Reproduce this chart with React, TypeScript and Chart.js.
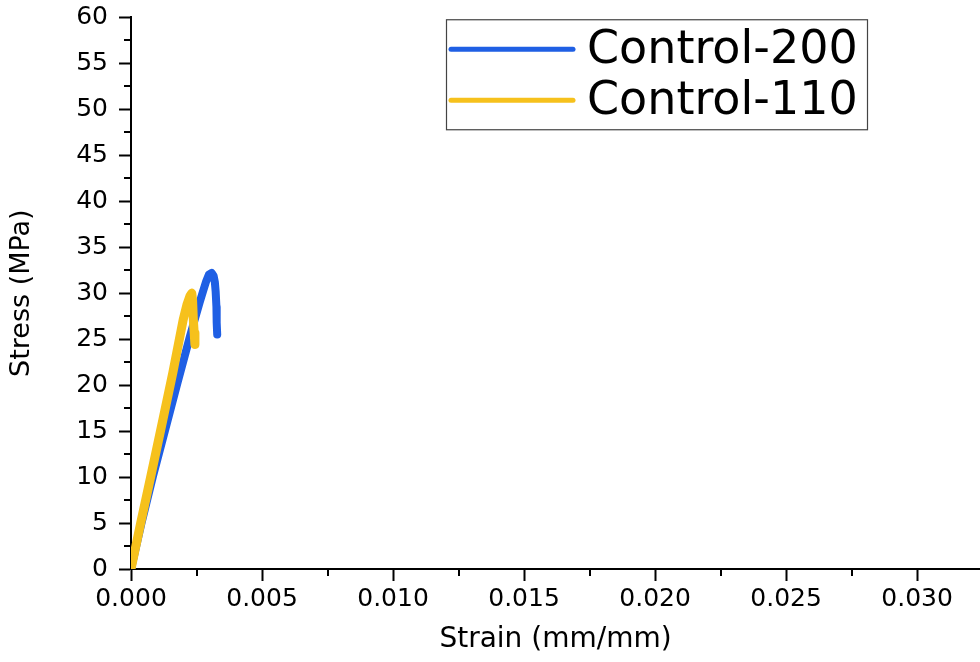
import React, { useEffect, useRef } from "react";
import { Chart, registerables } from "chart.js";

Chart.register(...registerables);

const seriesNames = ["Control-200", "Control-110"];
const seriesColors = ["#1F5FE4", "#F6C11C"];

const strain200 = [0, 0.0004, 0.00084, 0.0013, 0.00177, 0.00225, 0.00245, 0.00262, 0.00276, 0.00287, 0.00297, 0.00308, 0.00315, 0.0032, 0.00323, 0.00326, 0.00327, 0.00329];
const stress200 = [0, 5.0, 10.1, 15.1, 20.2, 25.3, 27.3, 29.0, 30.3, 31.3, 32.0, 32.2, 31.9, 31.2, 30.2, 28.5, 26.8, 25.5];

const strain110 = [0, 0.00037, 0.00075, 0.00117, 0.0016, 0.00199, 0.00214, 0.00225, 0.00232, 0.00235, 0.00238, 0.00241, 0.00244];
const stress110 = [0, 5.0, 10.0, 15.6, 21.4, 27.1, 28.8, 29.7, 30.0, 29.2, 27.1, 25.7, 24.4];

const xTickValues = [0, 0.005, 0.01, 0.015, 0.02, 0.025, 0.03];
const xMinorValues = [0.0025, 0.0075, 0.0125, 0.0175, 0.0225, 0.0275];
const yMinorValues = [2.5, 7.5, 12.5, 17.5, 22.5, 27.5, 32.5, 37.5, 42.5, 47.5, 52.5, 57.5];

const FONT = "'DejaVu Sans', Arial, sans-serif";

const minorTicksPlugin = {
  id: "minorTicks",
  afterDraw(chart: any) {
    const { ctx, chartArea, scales } = chart;
    ctx.save();
    ctx.strokeStyle = "#000";
    ctx.lineWidth = 2;
    ctx.beginPath();
    for (const v of yMinorValues) {
      const y = Math.round(scales.y.getPixelForValue(v));
      ctx.moveTo(chartArea.left - 7, y);
      ctx.lineTo(chartArea.left, y);
    }
    for (const v of xMinorValues) {
      const x = Math.round(scales.x.getPixelForValue(v));
      ctx.moveTo(x, chartArea.bottom);
      ctx.lineTo(x, chartArea.bottom + 7);
    }
    ctx.stroke();
    ctx.restore();
  },
};

const boxLegendPlugin = {
  id: "boxLegend",
  afterDraw(chart: any) {
    const { ctx, chartArea } = chart;
    const right = chartArea.right - 113;
    const left = right - 421;
    const top = chartArea.top + 2;
    const h = 110;
    ctx.save();
    ctx.strokeStyle = "#444";
    ctx.lineWidth = 1.2;
    ctx.fillStyle = "#fff";
    ctx.fillRect(left, top, right - left, h);
    ctx.strokeRect(left + 0.5, top + 0.5, right - left, h);
    ctx.font = `46px ${FONT}`;
    ctx.textBaseline = "middle";
    ctx.textAlign = "left";
    chart.data.datasets.forEach((ds: any, i: number) => {
      const y = top + 30 + i * 51;
      ctx.strokeStyle = ds.borderColor;
      ctx.lineWidth = 5;
      ctx.lineCap = "round";
      ctx.beginPath();
      ctx.moveTo(left + 5, y);
      ctx.lineTo(left + 127, y);
      ctx.stroke();
      ctx.fillStyle = "#000";
      ctx.fillText(ds.label, left + 141, y + 2);
    });
    ctx.restore();
  },
};

export default function App() {
  const ref = useRef<HTMLCanvasElement | null>(null);

  useEffect(() => {
    if (!ref.current) return;
    const mk = (xs: number[], ys: number[]) => xs.map((x, i) => ({ x, y: ys[i] }));
    const chart = new Chart(ref.current, {
      type: "scatter",
      data: {
        datasets: [
          {
            label: seriesNames[0],
            data: mk(strain200, stress200),
            borderColor: seriesColors[0],
            backgroundColor: seriesColors[0],
            showLine: true,
            borderWidth: 8,
            pointRadius: 0,
            borderCapStyle: "round",
            borderJoinStyle: "round",
            tension: 0,
            order: 1,
          },
          {
            label: seriesNames[1],
            data: mk(strain110, stress110),
            borderColor: seriesColors[1],
            backgroundColor: seriesColors[1],
            showLine: true,
            borderWidth: 9,
            pointRadius: 0,
            borderCapStyle: "round",
            borderJoinStyle: "round",
            tension: 0,
            order: 0,
          },
        ],
      },
      options: {
        responsive: false,
        maintainAspectRatio: false,
        animation: false,
        layout: { padding: { top: 17, right: 0, left: 0, bottom: 0 } },
        plugins: {
          legend: { display: false },
          tooltip: { enabled: false },
        },
        scales: {
          x: {
            type: "linear",
            min: 0,
            max: 0.0324,
            afterBuildTicks: (scale: any) => {
              scale.ticks = xTickValues.map((v) => ({ value: v }));
            },
            afterFit: (scale: any) => {
              scale.height = 93;
            },
            border: { display: true, color: "#000", width: 2 },
            grid: {
              drawOnChartArea: false,
              drawTicks: true,
              tickLength: 12,
              tickColor: "#000",
              tickWidth: 2,
            },
            ticks: {
              color: "#000",
              font: { family: FONT, size: 25 },
              padding: 3,
              maxRotation: 0,
              autoSkip: false,
              callback: (v: any) => Number(v).toFixed(3),
            },
            title: {
              display: true,
              text: "Strain (mm/mm)",
              color: "#000",
              font: { family: FONT, size: 28 },
              padding: { top: 0, bottom: 5 },
            },
          },
          y: {
            type: "linear",
            min: 0,
            max: 60,
            afterFit: (scale: any) => {
              scale.width = 131;
            },
            border: { display: true, color: "#000", width: 2 },
            grid: {
              drawOnChartArea: false,
              drawTicks: true,
              tickLength: 12,
              tickColor: "#000",
              tickWidth: 2,
            },
            ticks: {
              stepSize: 5,
              color: "#000",
              font: { family: FONT, size: 25, lineHeight: 0.5 },
              padding: 11,
            },
            title: {
              display: true,
              text: "Stress (MPa)",
              color: "#000",
              font: { family: FONT, size: 27 },
              padding: { top: 6, bottom: 0 },
            },
          },
        },
      },
      plugins: [minorTicksPlugin, boxLegendPlugin],
    } as any);
    return () => chart.destroy();
  }, []);

  return (
    <div style={{ position: "fixed", left: 0, top: 0, width: 980, height: 662, background: "#fff" }}>
      <canvas ref={ref} width={980} height={662} />
    </div>
  );
}
